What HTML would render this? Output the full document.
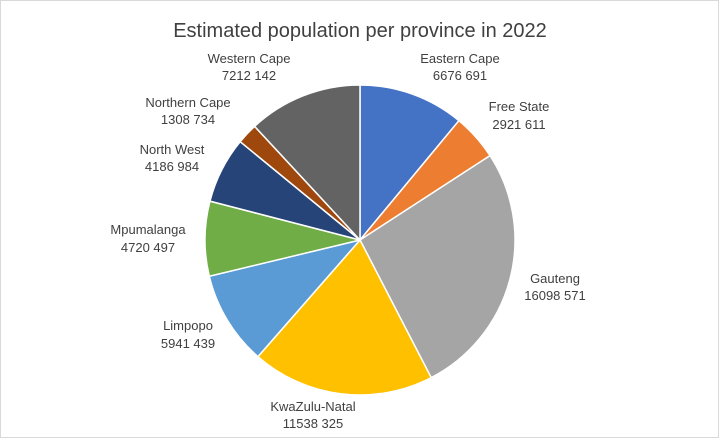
<!DOCTYPE html>
<html><head><meta charset="utf-8"><style>
body{margin:0;background:#fff}
svg{display:block}
text{font-family:"Liberation Sans",sans-serif;fill:#404040}
</style></head><body>
<svg id="s" width="719" height="438" viewBox="0 0 719 438">
<rect x="0.5" y="0.5" width="718" height="437" fill="#fff" stroke="#d9d9d9"/>
<text x="360" y="37" font-size="20" text-anchor="middle" fill="#595959">Estimated population per province in 2022</text>
<g id="p"></g>
<g font-size="13" text-anchor="middle">
<text x="460" y="63">Eastern Cape</text><text x="460" y="80">6676 691</text>
<text x="519" y="111">Free State</text><text x="519" y="129">2921 611</text>
<text x="555" y="283">Gauteng</text><text x="555" y="300">16098 571</text>
<text x="313" y="411">KwaZulu-Natal</text><text x="313" y="428">11538 325</text>
<text x="188" y="330">Limpopo</text><text x="188" y="348">5941 439</text>
<text x="148" y="234">Mpumalanga</text><text x="148" y="252">4720 497</text>
<text x="172" y="154">North West</text><text x="172" y="171">4186 984</text>
<text x="188" y="107">Northern Cape</text><text x="188" y="124">1308 734</text>
<text x="249" y="63">Western Cape</text><text x="249" y="80">7212 142</text>
</g>
</svg>
<script>
var v=[6676691,2921611,16098571,11538325,5941439,4720497,4186984,1308734,7212142];
var c=["#4472C4","#ED7D31","#A5A5A5","#FFC000","#5B9BD5","#70AD47","#264478","#9E480E","#636363"];
var t=v.reduce((a,b)=>a+b),cx=360,cy=240,r=155,a=0,s="";
v.forEach(function(x,i){var a2=a+x/t*2*Math.PI;
var x1=cx+r*Math.sin(a),y1=cy-r*Math.cos(a),x2=cx+r*Math.sin(a2),y2=cy-r*Math.cos(a2);
s+='<path d="M'+cx+','+cy+'L'+x1+','+y1+'A'+r+','+r+' 0 '+(a2-a>Math.PI?1:0)+' 1 '+x2+','+y2+'Z" fill="'+c[i]+'" stroke="#fff" stroke-width="1.5"/>';a=a2;});
document.getElementById("p").innerHTML=s;
</script>
</body></html>
